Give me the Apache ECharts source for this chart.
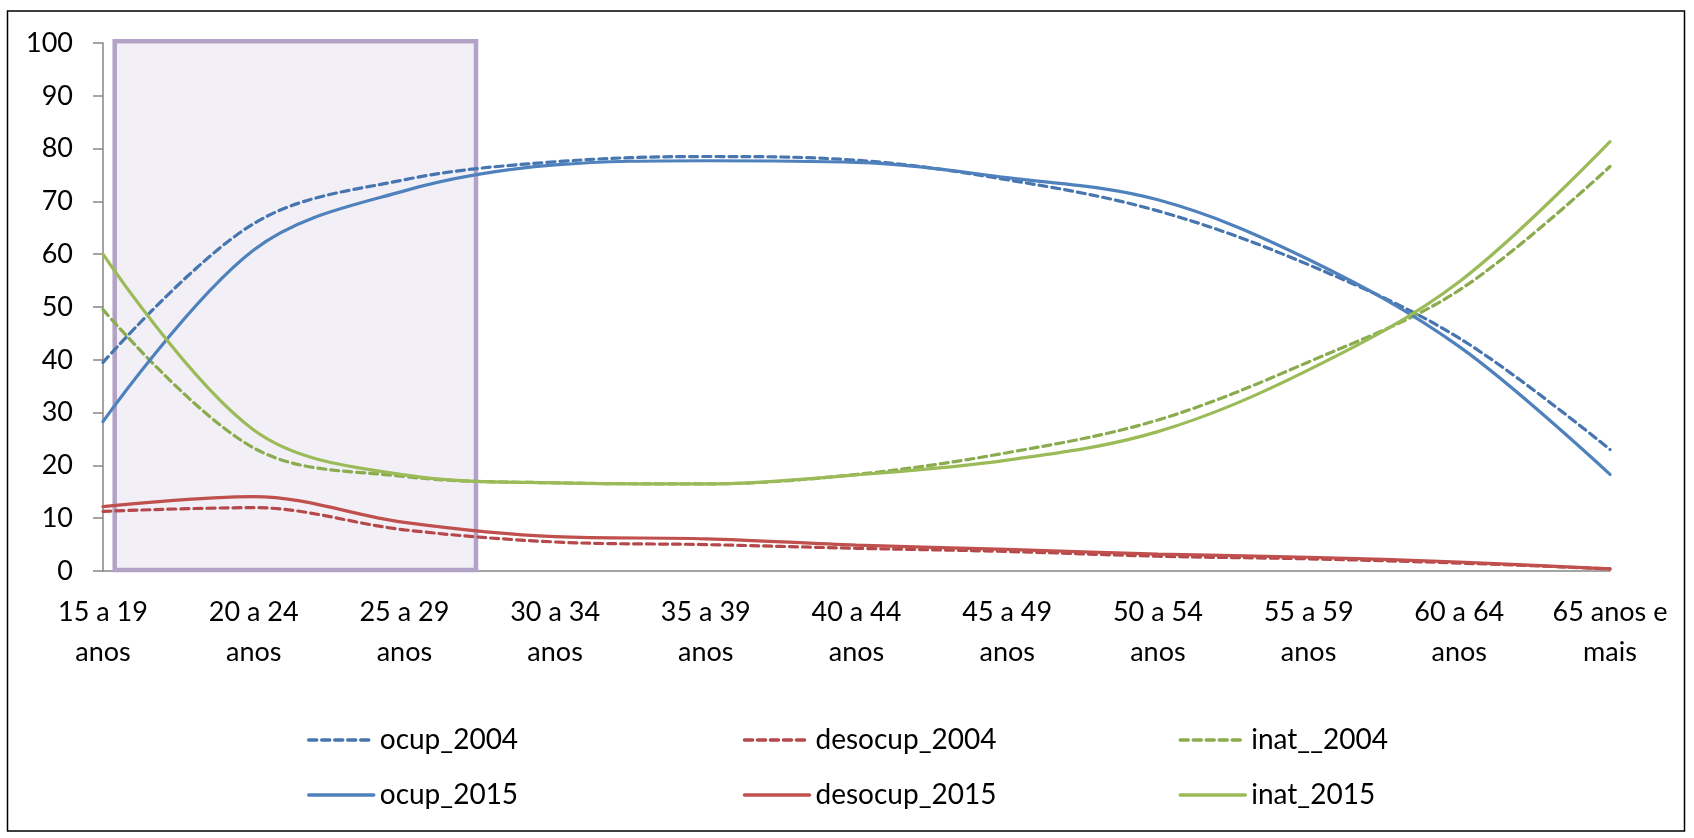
<!DOCTYPE html>
<html>
<head>
<meta charset="utf-8">
<script src="https://cdn.jsdelivr.net/npm/echarts@6/dist/echarts.min.js"></script>
<style>
html,body{margin:0;padding:0;background:#fff;}
#chart{width:1694px;height:838px;}
</style>
</head>
<body>
<div id="chart"></div>
<script>
const categories = ["15 a 19\nanos","20 a 24\nanos","25 a 29\nanos","30 a 34\nanos","35 a 39\nanos","40 a 44\nanos","45 a 49\nanos","50 a 54\nanos","55 a 59\nanos","60 a 64\nanos","65 anos e\nmais"];
const yTicks = [0,10,20,30,40,50,60,70,80,90,100];

const ocup_2004    = [39.5, 65.8, 74.1, 77.5, 78.5, 77.8, 74.1, 68.2, 58.0, 44.1, 23.0];
const desocup_2004 = [11.3, 12.0, 7.8, 5.5, 5.0, 4.3, 3.7, 2.8, 2.3, 1.5, 0.4];
const inat_2004    = [49.5, 23.3, 17.9, 16.7, 16.5, 18.3, 22.4, 28.6, 39.6, 53.2, 76.6];
const ocup_2015    = [28.3, 60.8, 72.0, 76.9, 77.7, 77.4, 74.5, 70.3, 59.0, 42.5, 18.3];
const desocup_2015 = [12.2, 14.1, 9.2, 6.5, 6.1, 4.9, 4.1, 3.2, 2.6, 1.7, 0.4];
const inat_2015    = [60.0, 26.7, 18.2, 16.7, 16.5, 18.2, 21.0, 26.4, 38.1, 54.8, 81.3];

const seriesNames = ["ocup_2004","desocup_2004","inat__2004","ocup_2015","desocup_2015","inat_2015"];
const seriesData = [ocup_2004, desocup_2004, inat_2004, ocup_2015, desocup_2015, inat_2015];
const colors = ["#4675af","#b5484a","#8aab4e","#4f81bd","#c0504d","#9bbb59"];
const dashed = [true,true,true,false,false,false];

const FONT = "Lato";
const chart = echarts.init(document.getElementById('chart'), null, {renderer:'canvas'});

const series = seriesNames.map((n,i)=>({
  name:n, type:'line', data:seriesData[i], smooth:0.35, symbol:'none', z:3,
  lineStyle:{color:colors[i], width:3.2, type: dashed[i]?[8,5]:'solid', cap:'round'},
  itemStyle:{color:colors[i]}
}));

const legendCommon = {
  left:302, orient:'horizontal', itemGap:0, itemWidth:65, itemHeight:14,
  itemStyle:{opacity:0},
  lineStyle:{width:3.5},
  textStyle:{fontFamily:FONT, fontSize:28, color:'#000', width:363, lineHeight:34, padding:[0,0,0,1]}
};

chart.setOption({
  animation:false,
  backgroundColor:'#fff',
  grid:{left:103, right:84, top:43, bottom:267, containLabel:false},
  legend:[
    Object.assign({}, legendCommon, {top:718, data:seriesNames.slice(0,3)}),
    Object.assign({}, legendCommon, {top:773, data:seriesNames.slice(3,6)})
  ],
  xAxis:{
    type:'category', data:categories, boundaryGap:false,
    axisLine:{lineStyle:{color:'#868686', width:1.5}},
    axisTick:{show:false},
    axisLabel:{fontFamily:FONT, fontSize:27, color:'#000', lineHeight:40, margin:21, interval:0}
  },
  yAxis:{
    type:'value', min:yTicks[0], max:yTicks[yTicks.length-1], interval:10,
    axisLine:{show:true, lineStyle:{color:'#868686', width:1.5}},
    axisTick:{show:true, inside:false, length:10, lineStyle:{color:'#868686', width:1.5}},
    splitLine:{show:false},
    axisLabel:{fontFamily:FONT, fontSize:27, color:'#000', margin:30}
  },
  graphic:[
    {type:'rect', z:-10, silent:true, shape:{x:7.5, y:11, width:1677, height:820},
     style:{fill:'#fff', stroke:'#000', lineWidth:1.5}},
    {type:'rect', z:1, silent:true, shape:{x:114.7, y:41.3, width:361.3, height:528.7},
     style:{fill:'#f2f0f6', stroke:'#b3a2c7', lineWidth:4.5}}
  ],
  series:series
});
</script>
</body>
</html>
